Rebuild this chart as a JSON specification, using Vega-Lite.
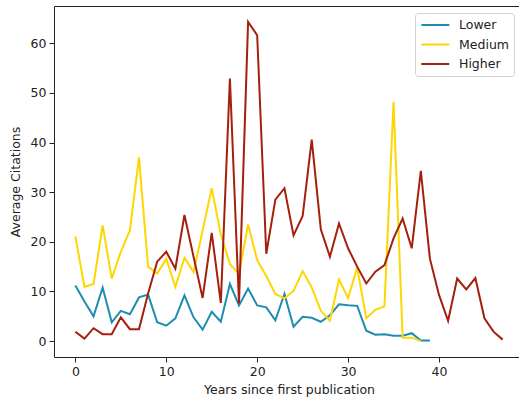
{
  "$schema": "https://vega.github.io/schema/vega-lite/v6.json",
  "width": 470,
  "height": 351,
  "autosize": {"type": "none"},
  "padding": {"left": 54, "top": 6, "right": 0, "bottom": 40},
  "background": "white",
  "config": {
    "font": "DejaVu Sans",
    "view": {"stroke": "#222", "strokeWidth": 1},
    "axis": {
      "grid": false,
      "domain": false,
      "tickColor": "#222",
      "tickSize": 5,
      "labelFontSize": 12.5,
      "labelColor": "#222",
      "labelPadding": 3,
      "titleFontSize": 12.5,
      "titleFontWeight": "normal",
      "titleColor": "#222"
    }
  },
  "datasets": {
    "citations": [
      {"year": 0, "group": "Lower", "avg": 11.2}, {"year": 1, "group": "Lower", "avg": 8.0}, {"year": 2, "group": "Lower", "avg": 5.0},
      {"year": 3, "group": "Lower", "avg": 10.8}, {"year": 4, "group": "Lower", "avg": 3.8}, {"year": 5, "group": "Lower", "avg": 6.1},
      {"year": 6, "group": "Lower", "avg": 5.4}, {"year": 7, "group": "Lower", "avg": 8.8}, {"year": 8, "group": "Lower", "avg": 9.4},
      {"year": 9, "group": "Lower", "avg": 3.8}, {"year": 10, "group": "Lower", "avg": 3.1}, {"year": 11, "group": "Lower", "avg": 4.6},
      {"year": 12, "group": "Lower", "avg": 9.2}, {"year": 13, "group": "Lower", "avg": 4.8}, {"year": 14, "group": "Lower", "avg": 2.3},
      {"year": 15, "group": "Lower", "avg": 5.9}, {"year": 16, "group": "Lower", "avg": 3.9}, {"year": 17, "group": "Lower", "avg": 11.5},
      {"year": 18, "group": "Lower", "avg": 7.2}, {"year": 19, "group": "Lower", "avg": 10.6}, {"year": 20, "group": "Lower", "avg": 7.2},
      {"year": 21, "group": "Lower", "avg": 6.8}, {"year": 22, "group": "Lower", "avg": 4.2}, {"year": 23, "group": "Lower", "avg": 9.5},
      {"year": 24, "group": "Lower", "avg": 2.9}, {"year": 25, "group": "Lower", "avg": 4.9}, {"year": 26, "group": "Lower", "avg": 4.7},
      {"year": 27, "group": "Lower", "avg": 3.9}, {"year": 28, "group": "Lower", "avg": 5.2}, {"year": 29, "group": "Lower", "avg": 7.4},
      {"year": 30, "group": "Lower", "avg": 7.2}, {"year": 31, "group": "Lower", "avg": 7.1}, {"year": 32, "group": "Lower", "avg": 2.1},
      {"year": 33, "group": "Lower", "avg": 1.3}, {"year": 34, "group": "Lower", "avg": 1.4}, {"year": 35, "group": "Lower", "avg": 1.1},
      {"year": 36, "group": "Lower", "avg": 1.1}, {"year": 37, "group": "Lower", "avg": 1.6}, {"year": 38, "group": "Lower", "avg": 0.1},
      {"year": 39, "group": "Lower", "avg": 0.1},

      {"year": 0, "group": "Medium", "avg": 21.1}, {"year": 1, "group": "Medium", "avg": 10.9}, {"year": 2, "group": "Medium", "avg": 11.5},
      {"year": 3, "group": "Medium", "avg": 23.3}, {"year": 4, "group": "Medium", "avg": 12.6}, {"year": 5, "group": "Medium", "avg": 18.0},
      {"year": 6, "group": "Medium", "avg": 22.3}, {"year": 7, "group": "Medium", "avg": 37.0}, {"year": 8, "group": "Medium", "avg": 15.0},
      {"year": 9, "group": "Medium", "avg": 13.6}, {"year": 10, "group": "Medium", "avg": 16.6}, {"year": 11, "group": "Medium", "avg": 10.9},
      {"year": 12, "group": "Medium", "avg": 16.8}, {"year": 13, "group": "Medium", "avg": 13.9}, {"year": 14, "group": "Medium", "avg": 22.3},
      {"year": 15, "group": "Medium", "avg": 30.8}, {"year": 16, "group": "Medium", "avg": 21.5}, {"year": 17, "group": "Medium", "avg": 15.5},
      {"year": 18, "group": "Medium", "avg": 13.6}, {"year": 19, "group": "Medium", "avg": 23.5}, {"year": 20, "group": "Medium", "avg": 16.3},
      {"year": 21, "group": "Medium", "avg": 13.1}, {"year": 22, "group": "Medium", "avg": 9.5}, {"year": 23, "group": "Medium", "avg": 8.6},
      {"year": 24, "group": "Medium", "avg": 10.1}, {"year": 25, "group": "Medium", "avg": 14.1}, {"year": 26, "group": "Medium", "avg": 10.8},
      {"year": 27, "group": "Medium", "avg": 6.1}, {"year": 28, "group": "Medium", "avg": 4.1}, {"year": 29, "group": "Medium", "avg": 12.4},
      {"year": 30, "group": "Medium", "avg": 8.7}, {"year": 31, "group": "Medium", "avg": 14.8}, {"year": 32, "group": "Medium", "avg": 4.6},
      {"year": 33, "group": "Medium", "avg": 6.3}, {"year": 34, "group": "Medium", "avg": 7.0}, {"year": 35, "group": "Medium", "avg": 48.2},
      {"year": 36, "group": "Medium", "avg": 0.7}, {"year": 37, "group": "Medium", "avg": 0.7}, {"year": 38, "group": "Medium", "avg": 0.0},

      {"year": 0, "group": "Higher", "avg": 1.9}, {"year": 1, "group": "Higher", "avg": 0.5}, {"year": 2, "group": "Higher", "avg": 2.6},
      {"year": 3, "group": "Higher", "avg": 1.4}, {"year": 4, "group": "Higher", "avg": 1.4}, {"year": 5, "group": "Higher", "avg": 4.8},
      {"year": 6, "group": "Higher", "avg": 2.4}, {"year": 7, "group": "Higher", "avg": 2.4}, {"year": 8, "group": "Higher", "avg": 9.6},
      {"year": 9, "group": "Higher", "avg": 16.0}, {"year": 10, "group": "Higher", "avg": 18.0}, {"year": 11, "group": "Higher", "avg": 14.6},
      {"year": 12, "group": "Higher", "avg": 25.4}, {"year": 13, "group": "Higher", "avg": 17.0}, {"year": 14, "group": "Higher", "avg": 8.7},
      {"year": 15, "group": "Higher", "avg": 21.8}, {"year": 16, "group": "Higher", "avg": 7.7}, {"year": 17, "group": "Higher", "avg": 52.9},
      {"year": 18, "group": "Higher", "avg": 7.6}, {"year": 19, "group": "Higher", "avg": 64.3}, {"year": 20, "group": "Higher", "avg": 61.6},
      {"year": 21, "group": "Higher", "avg": 17.6}, {"year": 22, "group": "Higher", "avg": 28.5}, {"year": 23, "group": "Higher", "avg": 30.8},
      {"year": 24, "group": "Higher", "avg": 21.3}, {"year": 25, "group": "Higher", "avg": 25.2}, {"year": 26, "group": "Higher", "avg": 40.6},
      {"year": 27, "group": "Higher", "avg": 22.5}, {"year": 28, "group": "Higher", "avg": 17.0}, {"year": 29, "group": "Higher", "avg": 23.7},
      {"year": 30, "group": "Higher", "avg": 18.7}, {"year": 31, "group": "Higher", "avg": 15.0}, {"year": 32, "group": "Higher", "avg": 11.6},
      {"year": 33, "group": "Higher", "avg": 14.0}, {"year": 34, "group": "Higher", "avg": 15.3}, {"year": 35, "group": "Higher", "avg": 20.7},
      {"year": 36, "group": "Higher", "avg": 24.7}, {"year": 37, "group": "Higher", "avg": 18.7}, {"year": 38, "group": "Higher", "avg": 34.3},
      {"year": 39, "group": "Higher", "avg": 16.6}, {"year": 40, "group": "Higher", "avg": 9.3}, {"year": 41, "group": "Higher", "avg": 4.1},
      {"year": 42, "group": "Higher", "avg": 12.6}, {"year": 43, "group": "Higher", "avg": 10.4}, {"year": 44, "group": "Higher", "avg": 12.7},
      {"year": 45, "group": "Higher", "avg": 4.6}, {"year": 46, "group": "Higher", "avg": 1.9}, {"year": 47, "group": "Higher", "avg": 0.3}
    ]
  },
  "data": {"name": "citations"},
  "mark": {"type": "line", "strokeWidth": 2, "clip": true},
  "encoding": {
    "x": {
      "field": "year",
      "type": "quantitative",
      "title": "Years since first publication",
      "scale": {"domain": [-2.35, 49.35], "nice": false, "zero": false},
      "axis": {"values": [0, 10, 20, 30, 40], "titlePadding": 6}
    },
    "y": {
      "field": "avg",
      "type": "quantitative",
      "title": "Average Citations",
      "scale": {"domain": [-3.2, 67.5], "nice": false, "zero": false},
      "axis": {"values": [0, 10, 20, 30, 40, 50, 60], "titlePadding": 8}
    },
    "color": {
      "field": "group",
      "type": "nominal",
      "title": null,
      "sort": ["Lower", "Medium", "Higher"],
      "scale": {"domain": ["Lower", "Medium", "Higher"], "range": ["#1f8db0", "#ffd700", "#a4200d"]},
      "legend": {
        "orient": "none",
        "legendX": 361,
        "legendY": 7,
        "symbolType": "M-0.95,0H3.72",
        "symbolSize": 144,
        "symbolStrokeWidth": 2,
        "labelFontSize": 12.5,
        "labelColor": "#222",
        "labelOffset": 25,
        "rowPadding": 5.5,
        "padding": 5,
        "strokeColor": "#d0d0d0",
        "fillColor": "white",
        "cornerRadius": 3
      }
    }
  }
}
